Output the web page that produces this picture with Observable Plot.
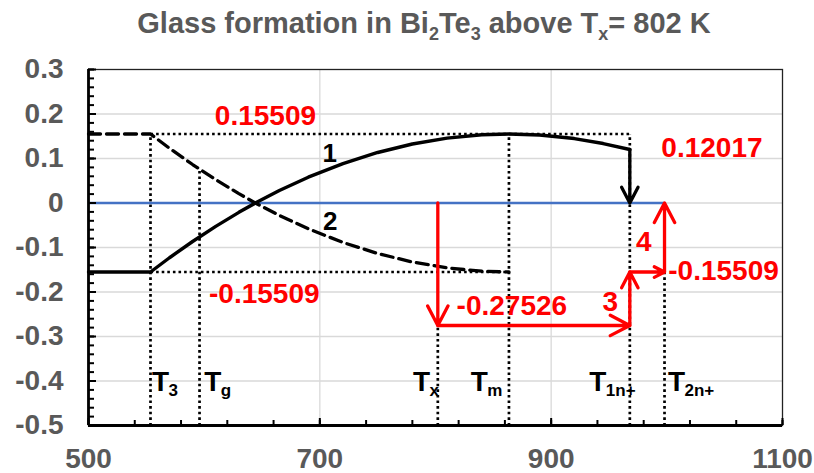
<!DOCTYPE html>
<html><head><meta charset="utf-8">
<script src="https://cdn.jsdelivr.net/npm/d3@7"></script>
<script src="https://cdn.jsdelivr.net/npm/@observablehq/plot@0.6"></script>
<style>
body{margin:0;background:#fff;width:814px;height:473px;overflow:hidden;position:relative;font-family:'Liberation Sans',Arial,Helvetica,sans-serif}
#title{position:absolute;top:9px;left:424px;transform:translateX(-50%);white-space:nowrap;font-size:29px;font-weight:bold;color:#595959;line-height:29px;z-index:2}
#title sub{font-size:18px;line-height:0;vertical-align:-7px}
#chart{position:absolute;left:0;top:0}
</style></head><body>
<div id="title">Glass formation in Bi<sub>2</sub>Te<sub>3</sub> above T<sub>x</sub>= 802 K</div>
<div id="chart"></div>
<script>
// ---- data ----
const curve1T = [500, 553.6, 570, 590, 610, 630, 645, 665, 690, 720, 750, 780, 810, 840, 863.5, 890, 920, 945, 968];
const curve1Y = [-0.15509, -0.15509, -0.123, -0.0865, -0.0525, -0.021, 0.001, 0.028, 0.058, 0.0886, 0.1135, 0.1326, 0.1458, 0.1533, 0.15509, 0.1528, 0.1448, 0.1336, 0.12017];
const curve2T = [500, 553.6, 570, 590, 610, 630, 645, 665, 690, 720, 750, 780, 810, 840, 863.5];
const curve2Y = [0.15509, 0.15509, 0.123, 0.0865, 0.0525, 0.021, -0.001, -0.028, -0.058, -0.0886, -0.1135, -0.1326, -0.1458, -0.1533, -0.15509];

const tempSubs   = ["3", "g", "x", "m", "1n+", "2n+"];
const tempValues = [553.6, 596, 802, 863.5, 968, 998];
const tempTops   = [0.15509, 0.076, -0.27526, 0.15509, 0.15509, -0.15509];
const tempLabelX = [555, 600, 780.5, 830.5, 933, 1001];

const levelHigh = 0.15509, levelLow = -0.15509, levelDrop = -0.27526, levelEnd = 0.12017;

const redTexts = ["0.15509", "-0.15509", "0.12017", "-0.27526", "-0.15509", "3", "4"];
const redX     = [653, 652, 1039, 866, 1049, 951, 980];
const redY     = [0.1748, -0.2257, 0.1035, -0.2528, -0.1724, -0.243, -0.108];
const blackTexts = ["1", "2"];
const blackX = [708.5, 709];
const blackY = [0.0923, -0.0614];

const xTicks = [500, 700, 900, 1100];
const yTicks = [-0.5, -0.4, -0.3, -0.2, -0.1, 0, 0.1, 0.2, 0.3];
const yGrid = [-0.4, -0.3, -0.2, -0.1, 0, 0.1, 0.2];
const xGrid = [700, 900];

// ---- build tables ----
const curve1 = curve1T.map((t, i) => ({t, v: curve1Y[i]}));
const curve2 = curve2T.map((t, i) => ({t, v: curve2Y[i]}));
const dotted = [
  {x1: tempValues[0], y1: levelHigh, x2: tempValues[4], y2: levelHigh},
  {x1: tempValues[0], y1: levelLow, x2: tempValues[3], y2: levelLow},
  ...tempValues.map((t, i) => ({x1: t, y1: -0.5, x2: t, y2: tempTops[i]}))
];
const redArrows = [
  {x1: 802, y1: 0, x2: 802, y2: levelDrop},
  {x1: 802, y1: levelDrop, x2: 968, y2: levelDrop},
  {x1: 968, y1: levelDrop, x2: 968, y2: levelLow},
  {x1: 968, y1: levelLow, x2: 998, y2: levelLow},
  {x1: 998, y1: levelLow, x2: 998, y2: 0}
];
const blackArrow = [{x1: 968, y1: levelEnd, x2: 968, y2: 0}];
const tLabels = tempSubs.map((s, i) => ({s, x: tempLabelX[i]}));
const reds = redTexts.map((s, i) => ({s, x: redX[i], y: redY[i]}));
const blacks = blackTexts.map((s, i) => ({s, x: blackX[i], y: blackY[i]}));

const xMinor = d3.range(500, 1101, 40);
const yMinor = d3.range(-50, 31, 2).map(d => d / 100);
const FONT = "'Liberation Sans', Arial, Helvetica, sans-serif";

const chart = Plot.plot({
  width: 814, height: 473,
  marginTop: 69, marginBottom: 48, marginLeft: 88, marginRight: 32,
  x: {domain: [500, 1100]},
  y: {domain: [-0.5, 0.3]},
  style: {fontFamily: FONT, background: "transparent", color: "#595959", overflow: "visible"},
  marks: [
    Plot.ruleY(yGrid, {stroke: "#d9d9d9", strokeWidth: 1.3}),
    Plot.ruleX(xGrid, {stroke: "#d9d9d9", strokeWidth: 1.3}),
    Plot.frame({stroke: "#222", strokeWidth: 1.3}),
    Plot.link(dotted, {x1: "x1", y1: "y1", x2: "x2", y2: "y2", stroke: "#000", strokeWidth: 2.7, strokeDasharray: "2.6,3"}),
    Plot.ruleY([0], {x1: 500, x2: 998, stroke: "#4472C4", strokeWidth: 2.6}),
    Plot.line(curve2, {x: "t", y: "v", stroke: "#000", strokeWidth: 3.3, strokeDasharray: "12,6"}),
    Plot.line(curve1, {x: "t", y: "v", stroke: "#000", strokeWidth: 3.4}),
    Plot.arrow(blackArrow, {x1: "x1", y1: "y1", x2: "x2", y2: "y2", stroke: "#000", strokeWidth: 3.3, headLength: 10, headAngle: 55}),
    Plot.arrow(redArrows, {x1: "x1", y1: "y1", x2: "x2", y2: "y2", stroke: "#FF0000", strokeWidth: 3.3, headLength: 10, headAngle: 55}),
    Plot.ruleX(xMinor, {y1: -0.5, y2: -0.5, insetTop: -5, stroke: "#000", strokeWidth: 2}),
    Plot.ruleX(xTicks, {y1: -0.5, y2: -0.5, insetTop: -7, stroke: "#000", strokeWidth: 2}),
    Plot.ruleY(yMinor, {x1: 500, x2: 500, insetRight: -6, stroke: "#000", strokeWidth: 2}),
    Plot.ruleY(yTicks, {x1: 500, x2: 500, insetRight: -8, stroke: "#000", strokeWidth: 2}),
    Plot.ruleX([500], {stroke: "#000", strokeWidth: 2.8}),
    Plot.ruleY([-0.5], {stroke: "#000", strokeWidth: 2.8}),
    Plot.axisX({ticks: xTicks, tickSize: 0, tickPadding: 23, tickFormat: d => String(d), fontSize: 28, fontWeight: "bold", fill: "#595959", label: null}),
    Plot.axisY({ticks: yTicks, tickSize: 0, tickPadding: 25, tickFormat: d => String(d), fontSize: 28, fontWeight: "bold", fill: "#595959", label: null}),
    Plot.text(reds, {x: "x", y: "y", text: "s", fill: "#FF0000", fontSize: 28, fontWeight: "bold", lineAnchor: "bottom"}),
    Plot.text(blacks, {x: "x", y: "y", text: "s", fill: "#000", fontSize: 26, fontWeight: "bold", lineAnchor: "bottom"}),
    Plot.text(tLabels, {x: "x", y: -0.4216, text: () => "T", fill: "#000", fontSize: 28, fontWeight: "bold", textAnchor: "start", lineAnchor: "bottom"}),
    Plot.text(tLabels, {x: "x", y: -0.4216, text: "s", fill: "#000", fontSize: 17, fontWeight: "bold", textAnchor: "start", lineAnchor: "bottom", dx: 16.5, dy: 5})
  ]
});
document.getElementById("chart").appendChild(chart);
</script>
</body></html>
